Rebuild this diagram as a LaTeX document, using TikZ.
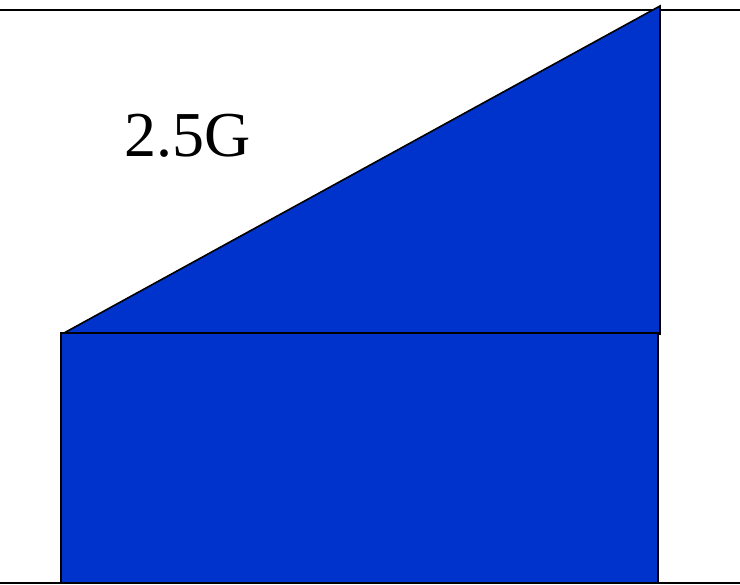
\documentclass[tikz,border=0pt]{standalone}
\usepackage{fontspec}
\setmainfont{Liberation Serif}
\definecolor{fillblue}{RGB}{0,51,204}
\begin{document}
\begin{tikzpicture}[x=1pt,y=-1pt,
  bluepart/.style={fill=fillblue,draw=black,line width=1.6pt,line join=miter},
  ruleline/.style={draw=black,line width=1.5pt}]
\useasboundingbox (0,0) rectangle (740,585);
\draw[ruleline] (0,10) -- (740,10);
\draw[ruleline] (0,583) -- (740,583);
\draw[bluepart] (64,333) -- (660,6) -- (660,334) -- cycle;
\draw[bluepart] (61,333) rectangle (658,583);
\node[anchor=base west,inner sep=0pt,font=\fontsize{64}{70}\selectfont] (lbl) at (124,157) {2.5G};
\end{tikzpicture}
\end{document}
